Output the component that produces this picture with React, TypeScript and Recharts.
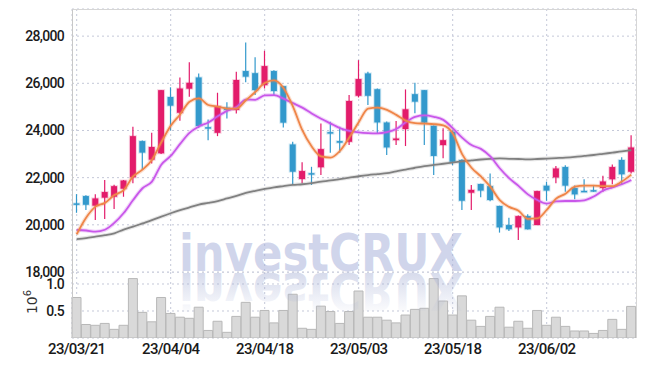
import React from 'react';
import { ComposedChart, Bar, Line, XAxis, YAxis, CartesianGrid } from 'recharts';

// trading days (KRX), yy/mm/dd
const dates = [
    '23/03/21', '23/03/22', '23/03/23', '23/03/24', '23/03/27', '23/03/28', '23/03/29', '23/03/30', '23/03/31',
    '23/04/03', '23/04/04', '23/04/05', '23/04/06', '23/04/07', '23/04/10', '23/04/11', '23/04/12', '23/04/13',
    '23/04/14', '23/04/17', '23/04/18', '23/04/19', '23/04/20', '23/04/21', '23/04/24', '23/04/25', '23/04/26',
    '23/04/27', '23/04/28', '23/05/02', '23/05/03', '23/05/04', '23/05/08', '23/05/09', '23/05/10', '23/05/11',
    '23/05/12', '23/05/15', '23/05/16', '23/05/17', '23/05/18', '23/05/19', '23/05/22', '23/05/23', '23/05/24',
    '23/05/25', '23/05/26', '23/05/30', '23/05/31', '23/06/01', '23/06/02', '23/06/05', '23/06/07', '23/06/08',
    '23/06/09', '23/06/12', '23/06/13', '23/06/14', '23/06/15', '23/06/16',
];

const opens = [
    20910, 21220, 20810, 21150, 21190, 21530, 22010, 23550, 22760, 23030,
    25420, 24750, 25770, 26250, 24140, 23900, 24970, 24870, 26520, 26430,
    25920, 26520, 25880, 23410, 21940, 22190, 22440, 23930, 23550, 23520,
    25470, 26420, 25750, 24340, 23590, 24060, 25540, 25710, 24200, 23380,
    23950, 22750, 21360, 21730, 21640, 20800, 19990, 19890, 20370, 19990,
    21660, 22010, 22450, 21560, 21440, 21470, 21560, 21930, 22750, 22250,
];
const highs = [
    21300, 21250, 21300, 21900, 21700, 21900, 24160, 23580, 23900, 25720,
    25830, 26250, 26890, 26420, 24470, 25600, 25200, 26490, 27730, 27100,
    27380, 26550, 25890, 23520, 22650, 22460, 24300, 24370, 24160, 25500,
    26980, 26490, 25780, 24380, 24400, 25740, 26020, 25720, 24210, 24090,
    24000, 22780, 21690, 21740, 22180, 20810, 20300, 20400, 20450, 21440,
    21830, 22490, 22530, 21670, 21930, 21690, 22080, 22560, 22860, 23800,
];
const lows = [
    20510, 20630, 20200, 20250, 20670, 21190, 21760, 22320, 22600, 23000,
    24000, 24410, 25430, 24100, 23590, 23760, 24510, 24720, 26040, 25500,
    25780, 25490, 24130, 21690, 21760, 21690, 22110, 23060, 23060, 23380,
    25400, 25080, 23880, 22960, 23380, 23340, 24730, 23380, 22110, 22820,
    22530, 20630, 20630, 21170, 21000, 19670, 19740, 19360, 19800, 19990,
    21020, 21760, 21400, 21080, 21400, 21400, 21400, 21720, 21730, 22180,
];
const closes = [
    20900, 20850, 21120, 21390, 21640, 21880, 23760, 23060, 23300, 25710,
    25050, 25780, 26020, 24190, 24120, 25030, 24870, 26140, 26280, 25710,
    26730, 25670, 24330, 22250, 22280, 22180, 23210, 23910, 23480, 25250,
    26180, 25470, 24340, 23280, 23660, 24900, 25220, 24330, 22920, 23590,
    22670, 21020, 21480, 21450, 21050, 19890, 19810, 20370, 19810, 21430,
    21450, 22390, 21660, 21290, 21430, 21460, 21840, 22450, 22140, 23280,
];

const ma5 = [
    19600, 20300, 20770, 20930, 21260, 21470, 22050, 22340, 22750, 23500,
    24200, 24680, 25220, 25360, 25080, 25010, 24930, 24930, 25280, 25630,
    26010, 26120, 25800, 25020, 24010, 23320, 22900, 22850, 23130, 23700,
    24350, 24930, 24970, 24870, 24660, 24420, 24310, 24290, 24270, 24220,
    23880, 23000, 22420, 22050, 21620, 21050, 20760, 20600, 20250, 20270,
    20630, 21110, 21320, 21620, 21660, 21660, 21640, 21640, 21840, 22130,
];
const ma20 = [
    19780, 19760, 19710, 19790, 20080, 20500, 21050, 21550, 21830, 22550,
    22920, 23430, 23900, 24170, 24340, 24600, 24830, 24990, 25310, 25300,
    25490, 25500, 25350, 25160, 24970, 24720, 24500, 24300, 24100, 23980,
    23920, 23890, 23880, 23930, 24060, 24350, 24580, 24640, 24580, 24450,
    24100, 23700, 23380, 23220, 22900, 22400, 21980, 21650, 21290, 21050,
    20900, 20990, 21010, 21010, 21040, 21200, 21450, 21590, 21720, 21900,
];
const ma60 = [
    19390, 19440, 19500, 19560, 19640, 19800, 19920, 20060, 20200, 20350,
    20490, 20620, 20740, 20860, 20930, 21010, 21120, 21230, 21350, 21440,
    21520, 21590, 21640, 21690, 21720, 21770, 21830, 21880, 21940, 22000,
    22060, 22110, 22150, 22190, 22270, 22340, 22420, 22490, 22540, 22590,
    22640, 22690, 22730, 22770, 22800, 22815, 22800, 22790, 22775, 22790,
    22810, 22830, 22850, 22880, 22920, 22960, 23010, 23060, 23110, 23170,
];

// volume, millions of shares
const volumes = [
    0.75, 0.25, 0.235, 0.27, 0.16, 0.235, 1.1, 0.475, 0.3, 0.75,
    0.455, 0.385, 0.365, 0.57, 0.14, 0.31, 0.105, 0.4, 0.66, 0.385,
    0.51, 0.28, 0.51, 0.81, 0.18, 0.16, 0.59, 0.49, 0.27, 0.49,
    0.87, 0.385, 0.385, 0.33, 0.28, 0.425, 0.53, 0.55, 1.1, 0.685,
    0.425, 0.78, 0.33, 0.215, 0.4, 0.57, 0.2, 0.31, 0.18, 0.51,
    0.235, 0.385, 0.215, 0.13, 0.13, 0.085, 0.14, 0.345, 0.16, 0.585,
];

const tickDates = ['23/03/21', '23/04/04', '23/04/18', '23/05/03', '23/05/18', '23/06/02'];
const priceTicks = [18000, 20000, 22000, 24000, 26000, 28000];
const volumeTicks = [0.5, 1.0];

const UP = '#e31c6b';
const DOWN = '#3399cc';
const GRID = '#c4c8d8';
const FONT = 'Roboto, sans-serif';

const rows = dates.map((date, i) => ({
    date,
    open: opens[i],
    high: highs[i],
    low: lows[i],
    close: closes[i],
    ma5: ma5[i],
    ma20: ma20[i],
    ma60: ma60[i],
    vol: volumes[i],
}));

const Candle = (props: any) => {
    const { x, y, width, height, payload } = props;
    if (!payload) return null;
    const top = Math.min(y, y + height);
    const bottom = Math.max(y, y + height);
    const { open, close, high, low } = payload;
    const toY = (v: number) => (high === low ? top : bottom - ((v - low) / (high - low)) * (bottom - top));
    const cx = x + width / 2;
    const color = close > open ? UP : DOWN;
    const yo = toY(open);
    const yc = toY(close);
    const bodyTop = Math.min(yo, yc);
    const bodyH = Math.max(Math.abs(yo - yc), 1.5);
    return (
        <g>
            <line x1={cx} x2={cx} y1={top} y2={bottom} stroke={color} strokeWidth={1.2} />
            <rect x={cx - 3} y={bodyTop} width={6} height={bodyH} fill={color} stroke={color} strokeOpacity={0.2} strokeWidth={2} />
        </g>
    );
};

const tickStyle = { fill: '#1a1a1a', fontSize: 14, fontFamily: FONT, fontWeight: 500, letterSpacing: -0.7 };

export default function App() {
    return (
        <div style={{ position: 'absolute', left: 0, top: 0, width: 645, height: 366, background: '#fff' }}>
            <div style={{ position: 'absolute', left: 0, top: 0 }}>
                <ComposedChart width={645} height={290} data={rows} margin={{ top: 9, right: 9, bottom: 18, left: 0 }} barCategoryGap={0}>
                    <CartesianGrid stroke={GRID} strokeDasharray="2 3" />
                    <XAxis dataKey="date" hide ticks={tickDates} interval={0} />
                    <YAxis
                        domain={[18000, 29150]}
                        ticks={priceTicks}
                        width={72}
                        allowDataOverflow
                        axisLine={false}
                        tickLine={false}
                        tick={tickStyle}
                        tickFormatter={(v: number) => v.toLocaleString('en-US')}
                    />
                    <Bar dataKey={(d: any) => [d.low, d.high]} shape={(p: any) => <Candle {...p} />} isAnimationActive={false} />
                    <Line dataKey="ma60" type="monotone" stroke="#808080" strokeWidth={4} strokeOpacity={0.2} dot={false} isAnimationActive={false} />
                    <Line dataKey="ma60" type="monotone" stroke="#808080" strokeWidth={1.8} dot={false} isAnimationActive={false} />
                    <Line dataKey="ma20" type="monotone" stroke="#c957ea" strokeWidth={4} strokeOpacity={0.25} dot={false} isAnimationActive={false} />
                    <Line dataKey="ma20" type="monotone" stroke="#c957ea" strokeWidth={1.8} dot={false} isAnimationActive={false} />
                    <Line dataKey="ma5" type="monotone" stroke="#ef8548" strokeWidth={4} strokeOpacity={0.25} dot={false} isAnimationActive={false} />
                    <Line dataKey="ma5" type="monotone" stroke="#ef8548" strokeWidth={1.8} dot={false} isAnimationActive={false} />
                </ComposedChart>
            </div>
            <div style={{ position: 'absolute', left: 0, top: 272 }}>
                <ComposedChart width={645} height={94} data={rows} margin={{ top: 0, right: 9, bottom: 0, left: 0 }} barCategoryGap={0}>
                    <CartesianGrid stroke={GRID} strokeDasharray="2 3" />
                    <XAxis
                        dataKey="date"
                        ticks={tickDates}
                        interval={0}
                        height={28}
                        tickLine={false}
                        axisLine={false}
                        tickSize={3}
                        tick={{ ...tickStyle, fontSize: 15 }}
                    />
                    <YAxis
                        domain={[0, 1.222]}
                        ticks={volumeTicks}
                        width={72}
                        allowDataOverflow
                        axisLine={false}
                        tickLine={false}
                        tick={tickStyle}
                        tickFormatter={(v: number) => v.toFixed(1)}
                    />
                    <Bar dataKey="vol" fill="#d9d9d9" stroke="#b8b8b8" strokeWidth={1} isAnimationActive={false} />
                </ComposedChart>
            </div>
            {/* plot frame */}
            <div style={{ position: 'absolute', left: 72, top: 9, width: 563, height: 328, borderTop: '1px solid #d6d6d6', borderLeft: '1px solid #c8c8c8', borderRight: '1px solid #d6d6d6' }} />
            {/* watermark + volume unit */}
            <svg width={645} height={366} style={{ position: 'absolute', left: 0, top: 0, pointerEvents: 'none' }}>
                <defs>
                    <linearGradient id="fade" x1="0" y1="228" x2="0" y2="272" gradientUnits="userSpaceOnUse">
                        <stop offset="0%" stopColor="#a4aed4" stopOpacity={0} />
                        <stop offset="100%" stopColor="#a4aed4" stopOpacity={0.45} />
                    </linearGradient>
                </defs>
                <text x={179} y={271} textLength={284} lengthAdjust="spacingAndGlyphs" fontSize={52} fontWeight={700} fontFamily="'DejaVu Sans', sans-serif" fill="#a2acd8" fillOpacity={0.5}>
                    investCRUX
                </text>
                <g transform="translate(0,544) scale(1,-1)">
                    <text x={179} y={271} textLength={284} lengthAdjust="spacingAndGlyphs" fontSize={52} fontWeight={700} fontFamily="'DejaVu Sans', sans-serif" fill="url(#fade)">
                        investCRUX
                    </text>
                </g>
                <text transform="translate(37,302) rotate(-90)" textAnchor="middle" fontSize={14} fill="#333" fontFamily="DejaVu Sans, sans-serif">
                    10<tspan dy={-6} fontSize={10}>6</tspan>
                </text>
            </svg>
        </div>
    );
}
